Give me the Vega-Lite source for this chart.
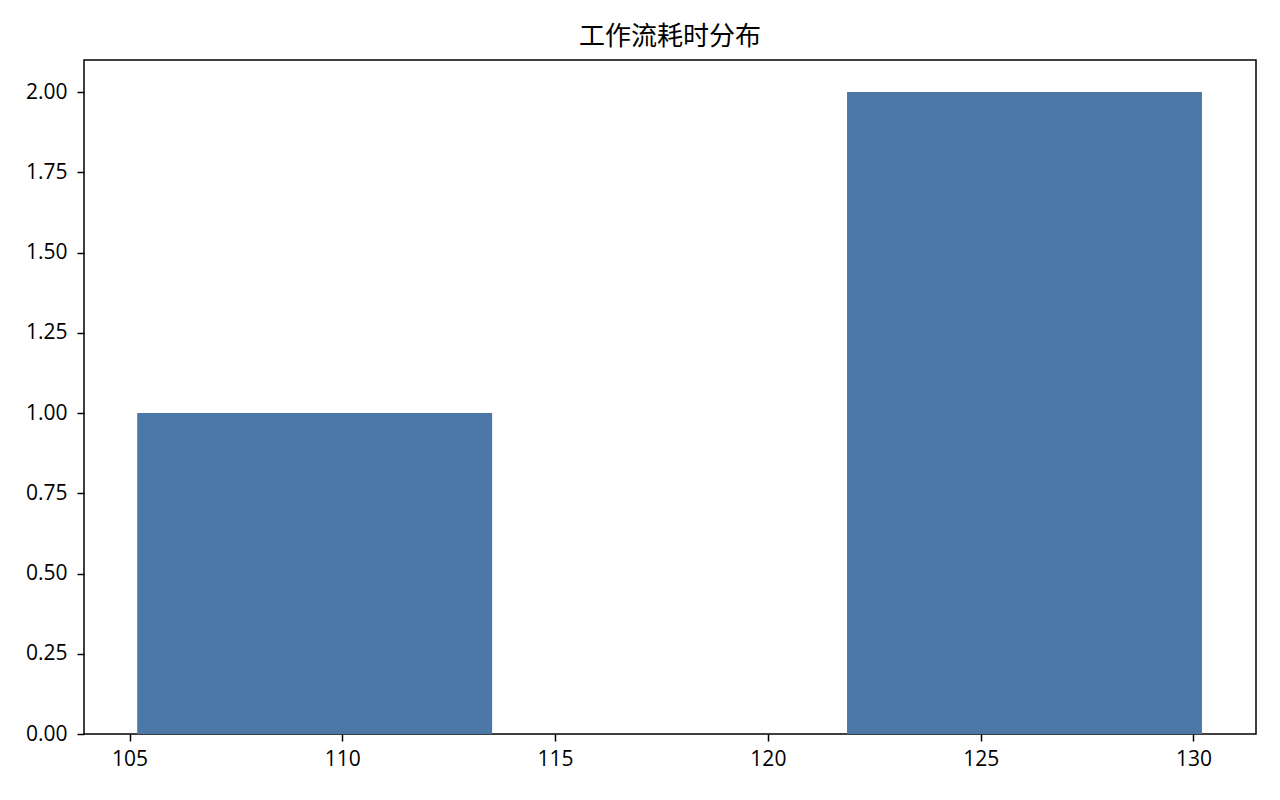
{
  "$schema": "https://vega.github.io/schema/vega-lite/v6.json",
  "width": 1172,
  "height": 674,
  "autosize": "none",
  "padding": {"left": 84, "top": 60, "right": 24, "bottom": 66},
  "background": "white",
  "title": {
    "text": "工作流耗时分布",
    "font": "Noto Sans CJK SC",
    "fontSize": 26,
    "fontWeight": "normal",
    "color": "black",
    "offset": 10,
    "anchor": "middle"
  },
  "config": {
    "view": {"stroke": "black", "strokeWidth": 1.5},
    "axis": {
      "labelFont": "Open Sans",
      "labelFontSize": 21,
      "labelColor": "black",
      "tickColor": "black",
      "tickSize": 7,
      "tickWidth": 1.5,
      "domain": false,
      "grid": false,
      "title": null
    }
  },
  "data": {
    "values": [
      {"bin_start": 105.18, "bin_end": 113.52, "count": 1},
      {"bin_start": 113.52, "bin_end": 121.86, "count": 0},
      {"bin_start": 121.86, "bin_end": 130.2, "count": 2}
    ]
  },
  "mark": {"type": "bar", "color": "#4c78a8"},
  "encoding": {
    "x": {
      "field": "bin_start",
      "type": "quantitative",
      "scale": {"domain": [103.93, 131.47], "nice": false, "zero": false},
      "axis": {"values": [105, 110, 115, 120, 125, 130], "labelPadding": 7}
    },
    "x2": {"field": "bin_end"},
    "y": {
      "field": "count",
      "type": "quantitative",
      "scale": {"domain": [0, 2.1], "nice": false},
      "axis": {"values": [0, 0.25, 0.5, 0.75, 1, 1.25, 1.5, 1.75, 2], "format": ".2f", "labelPadding": 10}
    },
    "y2": {"datum": 0}
  }
}
